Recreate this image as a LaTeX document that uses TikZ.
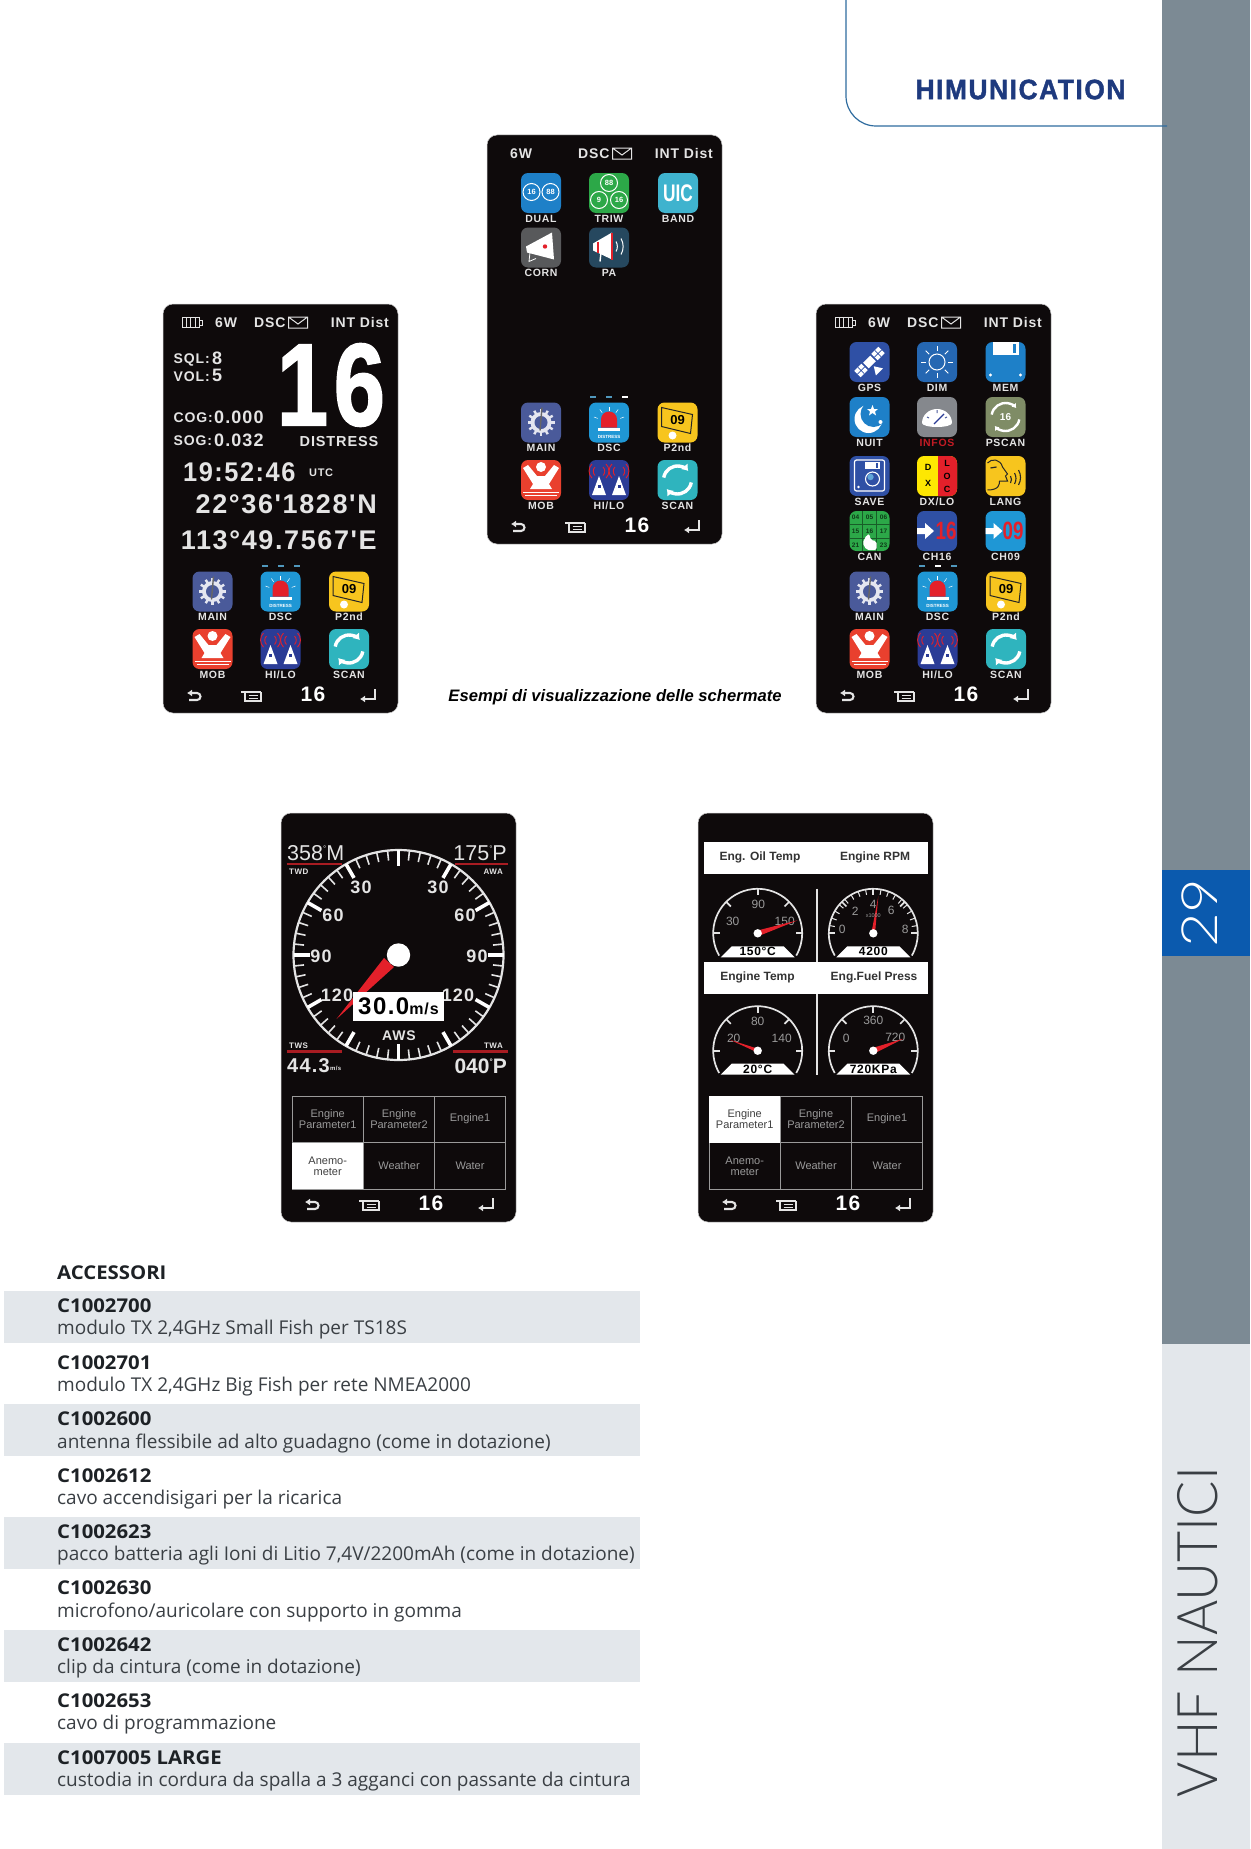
\documentclass[tikz,border=0pt]{standalone}
\usepackage{fontspec}
\usetikzlibrary{arrows.meta}
\setmainfont{Liberation Sans}
\newfontfamily\lcdfont[LetterSpace=6]{Liberation Sans}
\newfontfamily\brandfont[LetterSpace=6,BoldFeatures={FakeBold=1.6}]{Liberation Sans}
\newfontfamily\listfont{Open Sans}
\newfontfamily\thinfont{Lato Light}
\newcommand{\fs}[1]{\fontsize{#1}{#1}\selectfont}
\newcommand{\smalldeg}{\raisebox{0.42em}{\fontsize{8}{8}\selectfont°}}
\definecolor{rail}{HTML}{7C8A94}
\definecolor{railpale}{HTML}{E3E7EB}
\definecolor{railblue}{HTML}{0B5AAE}
\definecolor{brandblue}{HTML}{1E3A7E}
\definecolor{framepen}{HTML}{2F6C9F}
\definecolor{screenblack}{HTML}{0E0A0B}
\definecolor{softwhite}{HTML}{E4E4E4}
\definecolor{softgrey}{HTML}{9A9A9A}
\definecolor{alarmred}{HTML}{E3202A}
\definecolor{linered}{HTML}{A81C22}
\definecolor{listtext}{HTML}{3A3F44}
\definecolor{listhead}{HTML}{1D2125}
\definecolor{iconmain}{HTML}{4A5A9A}
\definecolor{icondsc}{HTML}{1F97D5}
\definecolor{iconyellow}{HTML}{F7C51E}
\definecolor{iconmob}{HTML}{E9402E}
\definecolor{iconhilo}{HTML}{2B3C96}
\definecolor{iconscan}{HTML}{2FB4BE}
\definecolor{icondark}{HTML}{2F50A5}
\definecolor{iconmem}{HTML}{1E80C8}
\definecolor{icongreen}{HTML}{2CA848}
\definecolor{iconband}{HTML}{3FB3CE}
\definecolor{iconcorn}{HTML}{58595B}
\definecolor{iconpa}{HTML}{26485F}
\definecolor{icondim}{HTML}{2567B2}
\definecolor{iconpscan}{HTML}{7F8C66}
\definecolor{iconinfos}{HTML}{85888D}
\tikzset{
	screen/.style={fill=screenblack,draw=black!20,line width=0.5pt,rounded corners=10pt,minimum width=235pt,minimum height=409pt,inner sep=0pt},
	appbox/.style={rounded corners=7pt,minimum size=40pt,inner sep=0pt},
	lcd/.style={font=\lcdfont\bfseries\fs{#1},text=softwhite,inner sep=0pt},
	applabel/.style={lcd=10.5},
	keypen/.style={draw=softwhite,line width=2.1pt},
	dial/.style={draw=softwhite,line width=1.7pt},
	cellbox/.style={font=\fs{11},text=softgrey,inner sep=0pt,align=center},
	band/.style={fill=railpale,draw=none},
	main glyph/.pic={
		\foreach \a in {0,30,...,330} \draw [white!85!iconmain,line width=2.4pt] (\a:9) -- (\a:13.5);
		\fill [white!85!iconmain] (0,0) circle (10.5);
		\fill [iconmain] (0,0) circle (6.5);
		\draw [black!60,line width=1.4pt] (1,-15) -- (-1,8);
	},
	dsc glyph/.pic={
		\fill [alarmred] (-8,5) -- (-8,-3) arc (180:360:8) -- (8,5) -- cycle;
		\fill [white] (-11,5) rectangle (11,8);
		\foreach \a in {200,235,270,305,340} \draw [white,line width=0.5pt] (\a:12) -- (\a:16);
		\node [inner sep=0pt,text=white,font=\bfseries\fs{4.5}] (dsct) at (0,14) {DISTRESS};
	},
	ptwo glyph/.pic={
		\draw [black!85,line width=1pt] (-16,-15) -- (15,-8) -- (13,11) -- (-16,4) -- cycle;
		\node [inner sep=0pt,text=black,font=\bfseries\fs{13}] (ptwot) at (0,-2) {09};
		\fill [white] (-5,13) circle (4);
	},
	mob glyph/.pic={
		\fill [white] (0,-13) circle (5);
		\fill [white] (-18,-12) -- (-13,-15) -- (-4,-4) -- (4,-4) -- (13,-15) -- (18,-12) -- (8,4) -- (11,9) -- (-11,9) -- (-8,4) -- cycle;
		\draw [white,line width=1pt] (-18,12) -- (18,12) (-16,15.5) -- (16,15.5);
	},
	hilo glyph/.pic={
		\foreach \x in {-10,10} {
			\fill [white] (\x,-4) -- (\x-7,15) -- (\x+7,15) -- cycle;
			\fill [iconhilo] (\x-1.5,5) rectangle (\x+1.5,8);
			\draw [alarmred,line width=0.9pt] (\x-4,-13) arc (225:135:6) (\x+4,-13) arc (-45:45:6) (\x-7,-16) arc (225:135:10) (\x+7,-16) arc (-45:45:10);
		}
	},
	scan glyph/.pic={
		\draw [white,line width=3.4pt,-{Latex[length=6pt,width=9pt]}] (190:14) arc (190:320:14);
		\draw [white,line width=3.4pt,-{Latex[length=6pt,width=9pt]}] (10:14) arc (10:140:14);
	},
	dual glyph/.pic={
		\foreach \x/\t in {-9.5/16,9.5/88} {
			\draw [white,line width=1pt] (\x,-1) circle (8.5);
			\node [inner sep=0pt,text=white,font=\bfseries\fs{7.5}] (dualt\t) at (\x,-1) {\t};
		}
	},
	triw glyph/.pic={
		\foreach \x/\y/\t in {0/-10/88,-10/7/9,10/7/16} {
			\draw [white,line width=1pt] (\x,\y) circle (8.5);
			\node [inner sep=0pt,text=white,font=\bfseries\fs{7.5}] (triwt\t) at (\x,\y) {\t};
		}
	},
	band glyph/.pic={
		\node [inner sep=0pt,text=white,font=\bfseries\fs{24}] (bandt) at (0,0) {\scalebox{0.72}[1]{UIC}};
	},
	corn glyph/.pic={
		\fill [white] (-15,-1) -- (11,-15) -- (13,12) -- (-14,5) -- cycle;
		\fill [alarmred] (4,-1) circle (2.2);
		\draw [white,line width=0.8pt] (-11,5) -- (-12,14) -- (-5,11);
	},
	pa glyph/.pic={
		\fill [white] (-16,-4) -- (3,-15) -- (3,12) -- (-16,3) -- cycle;
		\draw [alarmred,line width=1.6pt] (-11,-6) -- (-11,5) (3,-15) -- (3,12);
		\draw [white,line width=1.4pt] (-8,5) -- (-9,14);
		\draw [white,line width=1pt] (7,-6) arc (-30:30:10) (12,-9) arc (-30:30:16);
	},
	gps glyph/.pic={
		\begin{scope}[rotate=-45]
			\fill [white] (-17,-4.5) rectangle (-7,4.5) (7,-4.5) rectangle (17,4.5);
			\fill [white] (-5,-4) rectangle (5,4);
			\draw [icondark,line width=0.7pt] (-12,-4.5) -- (-12,4.5) (12,-4.5) -- (12,4.5) (-17,0) -- (-7,0) (7,0) -- (17,0);
			\fill [white] (0,6) -- (-5,14) -- (5,14) -- cycle;
		\end{scope}
	},
	dim glyph/.pic={
		\draw [white,line width=1pt] (0,0) circle (8);
		\foreach \a in {0,45,...,315} \draw [white,line width=1pt] (\a:11) -- (\a:16);
	},
	mem glyph/.pic={
		\fill [white] (-13,-20) rectangle (13,-7);
		\fill [iconmem] (7,-18) rectangle (10,-9);
		\fill [white] (-15,13) circle (1.7) (15,13) circle (1.7);
	},
	nuit glyph/.pic={
		\fill [white] (-1,2) circle (14);
		\fill [iconmem] (4,-3) circle (13);
		\fill [white] (3,-12) -- (4.5,-8) -- (8.5,-8) -- (5.5,-5.5) -- (6.5,-1.5) -- (3,-4) -- (-0.5,-1.5) -- (0.5,-5.5) -- (-2.5,-8) -- (1.5,-8) -- cycle;
		\fill [white] (11,5) circle (2);
	},
	infos glyph/.pic={
		\fill [white] (-15,6) arc (180:360:15 and 14) -- (15,6) arc (0:180:15 and 4) -- cycle;
		\draw [iconmain,line width=1pt] (-10,0) -- (-8,1) (0,-7) -- (0,-4) (10,0) -- (8,1);
		\draw [iconhilo,line width=1.3pt] (-3,7) -- (7,-3);
	},
	pscan glyph/.pic={
		\draw [white,line width=2.4pt,-{Latex[length=4pt,width=6pt]}] (190:14) arc (190:320:14);
		\draw [white,line width=2.4pt,-{Latex[length=4pt,width=6pt]}] (10:14) arc (10:140:14);
		\node [inner sep=0pt,text=white,font=\bfseries\fs{10}] (pscant) at (0,0) {16};
	},
	save glyph/.pic={
		\draw [white,line width=1.2pt,rounded corners=2pt] (-15,-16) rectangle (15,15);
		\fill [white] (-5,-14) rectangle (10,-7);
		\fill [icondark] (6,-13) rectangle (8,-8);
		\fill [white] (-11,11) circle (1.4);
		\draw [white,line width=1.1pt] (3,3) circle (7);
		\fill [iconmem!70] (1,1) circle (3.2);
	},
	dxlo glyph/.pic={
		\fill [alarmred] (1,-20) -- (13,-20) arc (-90:0:7) -- (20,13) arc (0:90:7) -- (1,20) -- cycle;
		\foreach \y/\t in {-9/D,7/X} \node [inner sep=0pt,text=black,font=\bfseries\fs{9}] (dxt\t) at (-9,\y) {\t};
		\foreach \y/\t in {-13/L,0/O,13/C} \node [inner sep=0pt,text=black,font=\bfseries\fs{9}] (lot\t) at (10,\y) {\t};
	},
	lang glyph/.pic={
		\draw [black!85,line width=1pt] (-18,14) .. controls (-6,14) and (-6,8) .. (-6,5) -- (2,5) -- (0,0) -- (2,-2) -- (-3,-9) .. controls (-5,-17) and (-14,-18) .. (-18,-13);
		\draw [black!85,line width=1.2pt] (-15,-8) -- (-9,-9);
		\draw [black!85,line width=1.1pt] (5,0) arc (-30:30:7) (9,-3) arc (-30:30:11) (13,-6) arc (-30:30:15);
	},
	can glyph/.pic={
		\draw [black!45!icongreen,line width=0.5pt] (-20,-7) -- (20,-7) (-20,7) -- (20,7) (-7,-20) -- (-7,20) (7,-20) -- (7,20);
		\foreach \x/\y/\t in {-14/-14/04,0/-14/05,14/-14/06,-14/0/15,0/0/16,14/0/17,-14/14/21,14/14/23}
			\node [inner sep=0pt,text=black!65!icongreen,font=\bfseries\fs{6.5}] (cant\t) at (\x,\y) {\t};
		\fill [white,rounded corners=2pt] (-3,4) -- (0,3) -- (1,9) -- (7,10) -- (7,19) -- (-3,19) -- (-7,12) -- cycle;
	},
	chan glyph/.pic={
		\fill [white] (-20,-3) -- (-12,-3) -- (-12,-8) -- (-3,0) -- (-12,8) -- (-12,3) -- (-20,3) -- cycle;
	},
}
% one status line, the soft keys and the menu grid are the same on each screen
\newcommand{\topbar}[2]{
	\node [lcd=14,anchor=west] (#1six) at (#2,18.5) {6W};
	\node [lcd=14,anchor=west] (#1dsc) at (91,18.5) {DSC};
	\draw [softwhite,line width=1pt] (125.5,13) rectangle (144.5,24) (125.5,13) -- (135,20) -- (144.5,13);
	\node [lcd=14,anchor=east] (#1dist) at (226,18.5) {INT Dist};
}
\newcommand{\cellbar}[1]{
	\draw [softwhite,line width=1pt] (19,13.5) rectangle (36,23.5) (23,13.5) -- (23,23.5) (27.5,13.5) -- (27.5,23.5) (32,13.5) -- (32,23.5) (36,16) -- (39,16) -- (39,21) -- (36,21);
}
\newcommand{\softkeys}[1]{
	\draw [keypen,-{Latex[length=5pt,width=7pt]}] (26,396) -- (34,396) arc (90:-90:3.5) -- (24,389);
	\draw [keypen,line width=1.4pt] (78,388) -- (98,388) (82,388) -- (82,397) -- (98,397) -- (98,388) (85.5,391.5) -- (95,391.5) (85.5,394.5) -- (95,394.5);
	\node [lcd=21,text=white] (#1chan) at (150,390) {16};
	\draw [keypen,-{Latex[length=5pt,width=7pt]}] (212,385) -- (212,395) -- (197,395);
}
\newcommand{\appicon}[6]{
	\node [appbox,fill=#4] (#1) at (#2,#3) {};
	\pic [yscale=-1] at (#2,#3) {#6};
	\node [applabel] (#1lab) at (#2,#3+25.5) {#5};
}
\newcommand{\menugrid}[1]{
	\foreach \nm/\cx/\cy/\txt in {a/46.7/306/{Engine\\Parameter1},b/118/306/{Engine\\Parameter2},c/189/306/Engine1,d/46.7/353/{Anemo-\\meter},e/118/353/Weather,f/189/353/Water}
		\node [cellbox] (#1\nm) at (\cx,\cy) {\txt};
	\draw [softgrey,line width=1pt] (11,283) rectangle (224.5,376.5) (82.7,283) -- (82.7,376.5) (153.3,283) -- (153.3,376.5) (11,329.7) -- (224.5,329.7);
}
\newcommand{\bottomapps}[4]{
	\appicon{#1main}{#2}{287.5}{iconmain}{MAIN}{main glyph}
	\appicon{#1dsc}{#2+68}{287.5}{icondsc}{DSC}{dsc glyph}
	\appicon{#1ptwo}{#2+136.5}{287.5}{iconyellow}{P2nd}{ptwo glyph}
	\appicon{#1mob}{#2}{345}{iconmob}{MOB}{mob glyph}
	\appicon{#1hilo}{#2+68}{345}{iconhilo}{HI/LO}{hilo glyph}
	\appicon{#1scan}{#2+136.5}{345}{iconscan}{SCAN}{scan glyph}
	\foreach \i in {-16,0,16} \fill [icondsc!60!softgrey] (#2+68+\i-3,260.5) rectangle (#2+68+\i+3,263);
	\fill [#4] (#2+68+#3-3,260.5) rectangle (#2+68+#3+3,263);
}
\newcommand{\dialgauge}[7]{
	\begin{scope}[shift={(#2,#3)}]
		\draw [dial] (150:44.5) arc (150:390:44.5);
		\foreach \a in {180,225,270,315,360} \draw [dial] (\a:44.5) -- (\a:38);
		\foreach \lx/\ly/\txt in {#7} \node [lcd=11,text=softgrey,font=\fs{12}] (#1\txt) at (\lx,\ly) {\txt};
		\fill [white] (-37,24) -- (-26,13) -- (26,13) -- (37,24) -- cycle;
		\node [lcd=12,text=black] (#1val) at (0,18.5) {#6};
		\fill [alarmred] (-1.5,-2.5) -- (#4,#5) -- (1.5,2.5) -- cycle;
		\fill [white] (0,0) circle (4.2);
	\end{scope}
}
\begin{document}
\begin{tikzpicture}[x=1pt,y=1pt,yscale=-1]
	\useasboundingbox (0,0) rectangle (1250,1849);
	\fill [white] (0,0) rectangle (1250,1849);
	\fill [rail] (1162,0) rectangle (1250,1344);
	\fill [railpale] (1162,1344) rectangle (1250,1849);
	\fill [railblue] (1162,870) rectangle (1250,956);
	\node [rotate=90,inner sep=0pt,text=white,font=\thinfont\fs{50}] (pagenum) at (1200,913) {\scalebox{1.2}[1]{29}};
	\node [rotate=90,inner sep=0pt,text=listtext,font=\thinfont\fs{56}] (section) at (1198,1632) {\scalebox{0.96}[1]{VHF NAUTICI}};
	\draw [framepen,line width=1.2pt] (846,0) -- (846,96) arc (180:90:30) -- (1167,126);
	\node [inner sep=0pt,text=brandblue,font=\brandfont\bfseries\fs{28}] (brand) at (1020.5,89.5) {\scalebox{0.94}[1]{HIMUNICATION}};
	\node [inner sep=0pt,font=\bfseries\itshape\fs{16.6}] (caption) at (615,697) {Esempi di visualizzazione delle schermate};

	% left screen
	\begin{scope}[shift={(163,304)}]
		\node [screen] (left) at (117.5,204.5) {};
		\cellbar{left}
		\topbar{left}{52}
		\node [lcd=14,anchor=west] (sql) at (10.5,56) {SQL:};
		\node [lcd=18,anchor=west] (sqlv) at (49,54.5) {8};
		\node [lcd=14,anchor=west] (vol) at (10.5,73) {VOL:};
		\node [lcd=18,anchor=west] (volv) at (49,71.5) {5};
		\node [inner sep=0pt,text=white,font=\brandfont\bfseries\fs{117}] (bigchan) at (168,81) {\scalebox{0.79}[1]{16}};
		\node [lcd=14,anchor=west] (cog) at (10.5,114) {COG:};
		\node [lcd=18,anchor=west] (cogv) at (51,113.5) {0.000};
		\node [lcd=14,anchor=west] (sog) at (10.5,136.5) {SOG:};
		\node [lcd=18,anchor=west] (sogv) at (51,136) {0.032};
		\node [lcd=14.5] (distress) at (176,138) {DISTRESS};
		\node [lcd=27,anchor=west] (clock) at (20,168) {\scalebox{0.94}[1]{19:52:46}};
		\node [lcd=11,anchor=west] (utc) at (146,169) {UTC};
		\node [lcd=27,anchor=east] (lat) at (214,200) {22°36'1828'N};
		\node [lcd=27,anchor=east] (lon) at (214,236) {113°49.7567'E};
		\bottomapps{left}{49.5}{0}{icondsc!60!softgrey}
		\softkeys{left}
	\end{scope}

	% middle screen
	\begin{scope}[shift={(487,135)}]
		\node [screen] (mid) at (117.5,204.5) {};
		\topbar{mid}{23}
		\appicon{dual}{54}{58}{iconmem}{DUAL}{dual glyph}
		\appicon{triw}{122}{58}{icongreen}{TRIW}{triw glyph}
		\appicon{bandb}{191}{58}{iconband}{BAND}{band glyph}
		\appicon{corn}{54}{112.5}{iconcorn}{CORN}{corn glyph}
		\appicon{pam}{122}{112.5}{iconpa}{PA}{pa glyph}
		\bottomapps{mid}{54}{16}{white}
		\softkeys{mid}
	\end{scope}

	% right screen
	\begin{scope}[shift={(816,304)}]
		\node [screen] (right) at (117.5,204.5) {};
		\cellbar{right}
		\topbar{right}{52}
		\appicon{gps}{53.5}{58}{icondark}{GPS}{gps glyph}
		\appicon{dim}{121}{58}{icondim}{DIM}{dim glyph}
		\appicon{mem}{189.5}{58}{iconmem}{MEM}{mem glyph}
		\appicon{nuit}{53.5}{113}{iconmem}{NUIT}{nuit glyph}
		\appicon{infos}{121}{113}{iconinfos}{\textcolor{alarmred!85!black}{INFOS}}{infos glyph}
		\appicon{pscan}{189.5}{113}{iconpscan}{PSCAN}{pscan glyph}
		\appicon{save}{53.5}{172}{icondark}{SAVE}{save glyph}
		\appicon{dxlo}{121}{172}{yellow!90!orange}{DX/LO}{dxlo glyph}
		\appicon{lang}{189.5}{172}{iconyellow}{LANG}{lang glyph}
		\appicon{can}{53.5}{227}{icongreen}{CAN}{can glyph}
		\appicon{chs}{121}{227}{icondark}{CH16}{chan glyph}
		\node [inner sep=0pt,text=alarmred,font=\bfseries\fs{25}] (chsval) at (130,227) {\scalebox{0.75}[1]{16}};
		\appicon{chn}{189.5}{227}{icondsc}{CH09}{chan glyph}
		\node [inner sep=0pt,text=alarmred,font=\bfseries\fs{25}] (chnval) at (197,227) {\scalebox{0.75}[1]{09}};
		\bottomapps{right}{53.5}{0}{white}
		\softkeys{right}
	\end{scope}

	% anemometer screen
	\begin{scope}[shift={(281,813)}]
		\node [screen] (wind) at (117.5,204.5) {};
		\draw [softwhite,line width=2.2pt] (117.5,142) circle (105);
		\begin{scope}[shift={(117.5,142)}]
			\foreach \a in {0,6,...,354} \draw [softwhite,line width=1.6pt] (\a:105) -- (\a:95);
			\foreach \a in {0,30,...,330} \draw [white,line width=3.6pt] (\a:105) -- (\a:89);
		\end{scope}
		\foreach \nm/\lx/\ly in {30/80/74.5,60/52/102,90/40/143,120/56/182}
			\node [lcd=18] (windl\nm) at (\lx,\ly) {\nm};
		\foreach \nm/\lx/\ly in {30/157/74.5,60/184/102,90/196/143,120/177/182}
			\node [lcd=18] (windr\nm) at (\lx,\ly) {\nm};
		\fill [alarmred] (103,145) -- (55.5,206) -- (113,154) -- cycle;
		\fill [white] (117.5,142) circle (11.7);
		\node [fill=white,minimum width=91pt,minimum height=29pt,inner sep=0pt,text=black] (speed) at (117.5,193) {\lcdfont\bfseries\fs{24}30.0\fs{16}m/s};
		\node [lcd=14] (aws) at (118,223) {AWS};
		\draw [linered,line width=2.2pt] (5.5,51) -- (60.5,51) (174,51) -- (227,51) (5.5,238.5) -- (61,238.5) (172,238.5) -- (227,238.5);
		\node [lcd=21,anchor=west,font=\fs{21.5}] (twdv) at (6,40) {358\smalldeg M};
		\node [lcd=21,anchor=east,font=\fs{21.5}] (awav) at (226,40) {175\smalldeg P};
		\node [lcd=8,anchor=west] (twd) at (8,58.5) {TWD};
		\node [lcd=8,anchor=east] (awa) at (222,58.5) {AWA};
		\node [lcd=8,anchor=west] (tws) at (8,233) {TWS};
		\node [lcd=8,anchor=east] (twa) at (222,233) {TWA};
		\node [lcd=20,anchor=west] (twsv) at (6,253) {44.3};
		\node [lcd=6,anchor=west] (twsu) at (49,255) {m/s};
		\node [lcd=20,anchor=east,font=\bfseries\fs{21}] (twav) at (226,253) {040\smalldeg P};
		\menugrid{wind}
		\node [fill=white,minimum width=71pt,minimum height=46.5pt,inner sep=0pt] (windsel) at (46.8,353.1) {};
		\node [cellbox,text=black!75] (windselt) at (46.7,353) {Anemo-\\meter};
		\softkeys{wind}
	\end{scope}

	% engine screen
	\begin{scope}[shift={(698,813)}]
		\node [screen] (engine) at (117.5,204.5) {};
		\foreach \nm/\by in {upper/45,lower/165}
			\node [fill=white,minimum width=224pt,minimum height=32.5pt,inner sep=0pt] (\nm bar) at (118,\by) {};
		\foreach \nm/\lx/\ly/\txt in {oil/62/44.5/Eng. Oil Temp,rpm/177/44.5/Engine RPM,tmp/59.5/164.5/Engine Temp,fuel/176/164.5/Eng.Fuel Press}
			\node [inner sep=0pt,text=black!80,font=\bfseries\fs{12}] (\nm) at (\lx,\ly) {\txt};
		\draw [softwhite,line width=1.6pt] (118.7,75.5) -- (118.7,149) (118.7,181) -- (118.7,262);
		\dialgauge{oilg}{59.7}{120.3}{40}{-13}{150°C}{-25/-12/30,0.7/-29/90,27/-12/150}
		\begin{scope}[shift={(175.3,120.3)}]
			\foreach \a in {180,190,...,360} \draw [dial,line width=1pt] (\a:44.5) -- (\a:39);
		\end{scope}
		\dialgauge{rpmg}{175.3}{120.3}{5}{-37}{4200}{-31/-4/0,-18/-22/2,0/-29/4,18/-23/6,32/-4/8}
		\node [inner sep=0pt,text=softgrey,font=\fs{5.5}] (rpmx) at (175.3,103) {x1000};
		\dialgauge{tmpg}{59.7}{237.7}{-28}{-11}{20°C}{-24/-12/20,0/-29/80,24/-12/140}
		\dialgauge{fuelg}{175.3}{237.7}{30}{-12}{720KPa}{-27/-12/0,0/-30/360,22/-13/720}
		\menugrid{engine}
		\node [fill=white,minimum width=71pt,minimum height=46.5pt,inner sep=0pt] (enginesel) at (46.8,306.3) {};
		\node [cellbox,text=black!75] (engineselt) at (46.7,306) {Engine\\Parameter1};
		\softkeys{engine}
	\end{scope}

	% accessory list
	\foreach \y in {1291,1404,1517,1630,1743}
		\fill [band] (4,\y) rectangle (640,\y+52);
	\node [anchor=west,inner sep=0pt,text=listhead,font=\listfont\bfseries\fs{19}] (acchead) at (57,1273) {\scalebox{1.07}[1]{ACCESSORI}};
	\foreach \nm/\y/\code/\desc in {a/1306/C1002700/{modulo TX 2,4GHz Small Fish per TS18S},
		b/1363/C1002701/{modulo TX 2,4GHz Big Fish per rete NMEA2000},
		c/1419/C1002600/{antenna flessibile ad alto guadagno (come in dotazione)},
		d/1476/C1002612/{cavo accendisigari per la ricarica},
		e/1532/C1002623/{pacco batteria agli Ioni di Litio 7,4V/2200mAh (come in dotazione)},
		f/1588/C1002630/{microfono/auricolare con supporto in gomma},
		g/1645/C1002642/{clip da cintura (come in dotazione)},
		h/1701/C1002653/{cavo di programmazione},
		i/1758/{C1007005 LARGE}/{custodia in cordura da spalla a 3 agganci con passante da cintura}}{
		\node [anchor=west,inner sep=0pt,text=listhead,font=\listfont\bfseries\fs{19}] (code\nm) at (57,\y) {\scalebox{1.07}[1]{\code}};
		\node [anchor=west,inner sep=0pt,text=listtext,font=\listfont\fs{19}] (desc\nm) at (57,\y+24) {\desc};
	}
\end{tikzpicture}
\end{document}
